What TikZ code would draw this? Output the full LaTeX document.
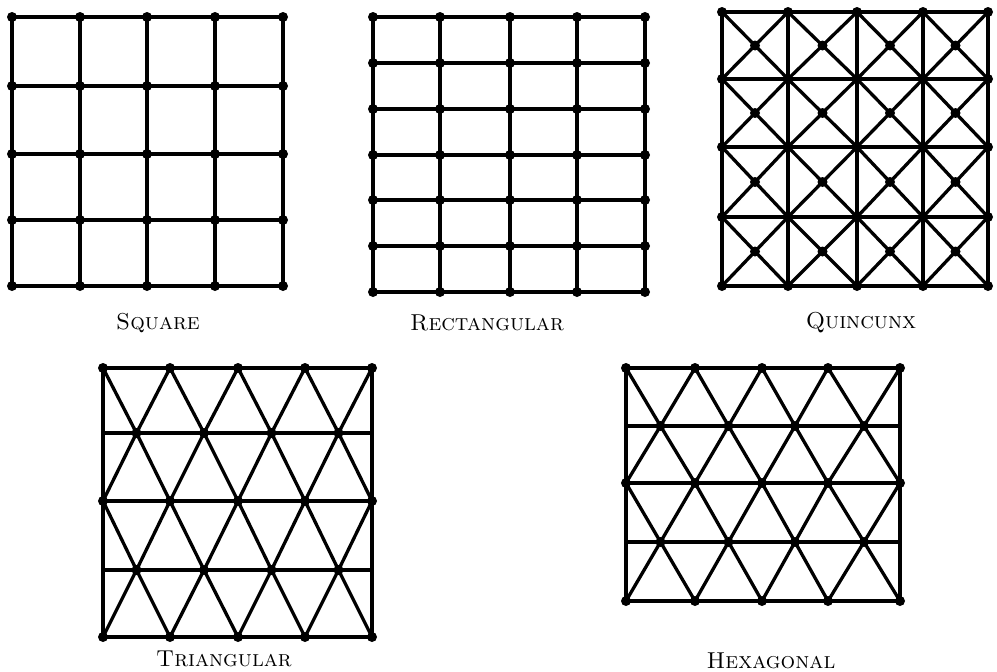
\documentclass[tikz,border=0pt]{standalone}
\tikzset{
  gridline/.style={line width=3.3pt, line cap=round, line join=round},
  knot/.style={circle, fill=black, inner sep=0pt, minimum size=10pt},
  caption/.style={font=\fontsize{23}{27}\selectfont\scshape, inner sep=0pt}
}
\begin{document}
\begin{tikzpicture}[x=1pt,y=-1pt]
\useasboundingbox (0,0) rectangle (997,672);
% ---------- Square ----------
\foreach \y in {17,86,154,220,286} \draw[gridline] (12,\y) -- (283,\y);
\foreach \x in {12,80,147,215,283} \draw[gridline] (\x,17) -- (\x,286);
\foreach \x [count=\i] in {12,80,147,215,283}
  \foreach \y [count=\j] in {17,86,154,220,286}
    \node[knot] (sq-\i-\j) at (\x,\y) {};
\node[caption] (lsq) at (158,323) {Square};
% ---------- Rectangular ----------
\foreach \y in {17,63,109,155,200,246,292} \draw[gridline] (373,\y) -- (645,\y);
\foreach \x in {373,440,510,577,645} \draw[gridline] (\x,17) -- (\x,292);
\foreach \x [count=\i] in {373,440,510,577,645}
  \foreach \y [count=\j] in {17,63,109,155,200,246,292}
    \node[knot] (re-\i-\j) at (\x,\y) {};
\node[caption] (lre) at (487,323) {Rectangular};
% ---------- Quincunx ----------
\foreach \y in {12,79,147,217,286} \draw[gridline] (722,\y) -- (988,\y);
\foreach \x in {722,788,857,923,988} \draw[gridline] (\x,12) -- (\x,286);
\foreach \xa/\xb [count=\i] in {722/788,788/857,857/923,923/988}
  \foreach \ya/\yb [count=\j] in {12/79,79/147,147/217,217/286} {
    \draw[gridline] (\xa,\ya) -- (\xb,\yb);
    \draw[gridline] (\xa,\yb) -- (\xb,\ya);
    \node[knot] (qc-\i-\j) at ({(\xa+\xb)/2},{(\ya+\yb)/2}) {};
  }
\foreach \x [count=\i] in {722,788,857,923,988}
  \foreach \y [count=\j] in {12,79,147,217,286}
    \node[knot] (qg-\i-\j) at (\x,\y) {};
\node[caption] (lqu) at (861,323) {Quincunx};
% ---------- Triangular ----------
\foreach \y in {368,433,501,570,637} \draw[gridline] (103,\y) -- (372,\y);
\foreach \x in {103,372} \draw[gridline] (\x,368) -- (\x,637);
\foreach \ye/\yo in {368/433,501/433,501/570,637/570}
  \foreach \xa/\xb in {103/170,170/238,238/305,305/372}
    \draw[gridline] (\xa,\ye) -- ({(\xa+\xb)/2},\yo) -- (\xb,\ye);
\foreach \y [count=\j] in {368,501,637}
  \foreach \x [count=\i] in {103,170,238,305,372}
    \node[knot] (te-\i-\j) at (\x,\y) {};
\foreach \y [count=\j] in {433,570}
  \foreach \x [count=\i] in {136.5,204,271.5,338.5}
    \node[knot] (to-\i-\j) at (\x,\y) {};
\node[caption] (ltr) at (224,659) {Triangular};
% ---------- Hexagonal ----------
\foreach \y in {368,426,483,542,601} \draw[gridline] (626,\y) -- (900,\y);
\foreach \x in {626,900} \draw[gridline] (\x,368) -- (\x,601);
\foreach \ye/\yo in {368/426,483/426,483/542,601/542}
  \foreach \xa/\xb in {626/695,695/762,762/828,828/900}
    \draw[gridline] (\xa,\ye) -- ({(\xa+\xb)/2},\yo) -- (\xb,\ye);
\foreach \y [count=\j] in {368,483,601}
  \foreach \x [count=\i] in {626,695,762,828,900}
    \node[knot] (he-\i-\j) at (\x,\y) {};
\foreach \y [count=\j] in {426,542}
  \foreach \x [count=\i] in {660.5,728.5,795,864}
    \node[knot] (ho-\i-\j) at (\x,\y) {};
\node[caption] (lhe) at (771,661) {Hexagonal};
\end{tikzpicture}
\end{document}
